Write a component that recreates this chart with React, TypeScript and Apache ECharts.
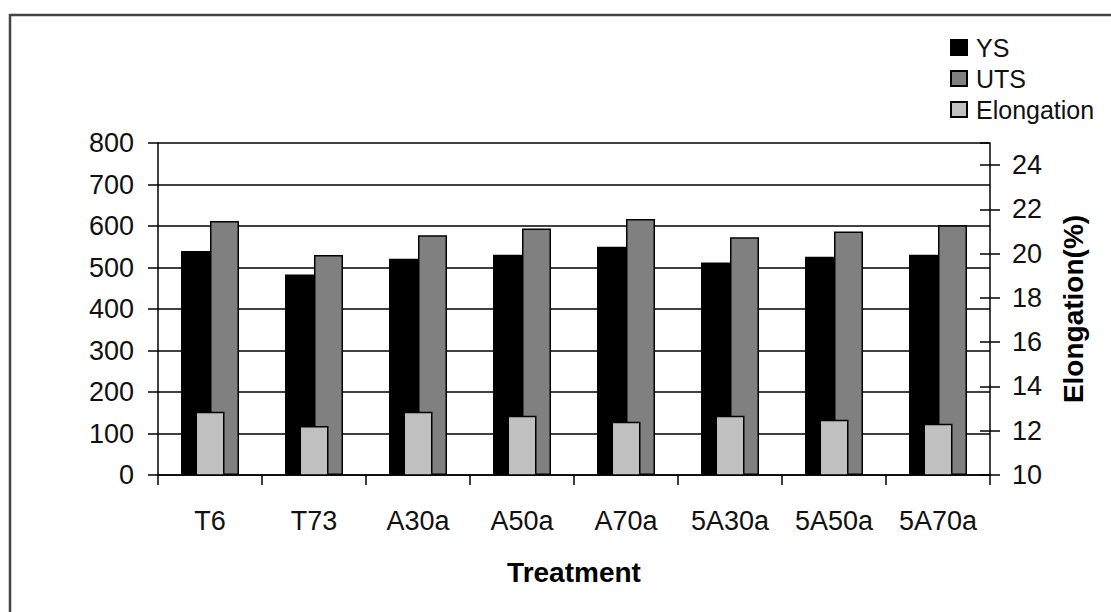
import React, { useEffect, useRef } from "react";
import * as echarts from "echarts";

const categories = ["T6", "T73", "A30a", "A50a", "A70a", "5A30a", "5A50a", "5A70a"];
const ysValues = [540, 483, 521, 531, 550, 512, 526, 531];
const utsValues = [612, 530, 578, 594, 617, 573, 587, 602];
const elongationValues = [12.86, 12.21, 12.86, 12.68, 12.41, 12.68, 12.5, 12.32];
const leftTicks = { min: 0, max: 800, interval: 100 };
const rightTicks = { min: 10, max: 25, interval: 2 };

const FONT = "Liberation Sans, Arial, sans-serif";

export default function App() {
  const ref = useRef<HTMLDivElement>(null);
  useEffect(() => {
    if (!ref.current) return;
    const chart = echarts.init(ref.current, null, { renderer: "svg" });
    const barBorder = { borderColor: "#000", borderWidth: 1.5 };
    chart.setOption({
      animation: false,
      backgroundColor: "#fff",
      textStyle: { fontFamily: FONT },
      graphic: [
        {
          type: "rect",
          shape: { x: 10, y: 15, width: 1200, height: 700 },
          style: { fill: "none", stroke: "#444", lineWidth: 2.5 },
          silent: true,
        },
      ],
      legend: {
        orient: "vertical",
        left: 945,
        top: 30,
        itemWidth: 16,
        itemHeight: 15,
        itemGap: 6,
        icon: "rect",
        textStyle: { fontSize: 25, color: "#111", fontFamily: FONT, padding: [0, 0, 0, 4] },
        data: ["YS", "UTS", "Elongation"],
      },
      grid: { left: 158, right: 121, top: 143, bottom: 137, containLabel: false },
      xAxis: [
        {
          type: "category",
          data: categories,
          name: "Treatment",
          nameLocation: "middle",
          nameGap: 83,
          nameTextStyle: { fontSize: 28, fontWeight: "bold", color: "#000", fontFamily: FONT },
          axisLine: { lineStyle: { color: "#000", width: 1.5 } },
          axisTick: { show: true, length: 10, alignWithLabel: false, lineStyle: { color: "#000", width: 1.5 } },
          axisLabel: { fontSize: 27, color: "#111", margin: 32, fontFamily: FONT },
        },
        {
          type: "category",
          data: categories,
          show: false,
          position: "bottom",
        },
      ],
      yAxis: [
        {
          type: "value",
          min: leftTicks.min,
          max: leftTicks.max,
          interval: leftTicks.interval,
          position: "left",
          axisLine: { show: true, lineStyle: { color: "#000", width: 1.5 } },
          axisTick: { show: true, length: 10, lineStyle: { color: "#000", width: 1.5 } },
          axisLabel: { fontSize: 27, color: "#111", margin: 24, fontFamily: FONT },
          splitLine: { show: true, lineStyle: { color: "#000", width: 1.5 } },
        },
        {
          type: "value",
          min: rightTicks.min,
          max: rightTicks.max,
          interval: rightTicks.interval,
          position: "right",
          name: "Elongation(%)",
          nameLocation: "middle",
          nameRotate: 90,
          nameGap: 69,
          nameTextStyle: { fontSize: 28, fontWeight: "bold", color: "#000", fontFamily: FONT },
          axisLine: { show: true, lineStyle: { color: "#000", width: 1.5 } },
          axisTick: { show: true, length: 10, lineStyle: { color: "#000", width: 1.5 } },
          axisLabel: { fontSize: 27, color: "#111", margin: 22, fontFamily: FONT, showMaxLabel: false },
          splitLine: { show: false },
        },
        {
          type: "value",
          min: rightTicks.min,
          max: rightTicks.max,
          interval: rightTicks.interval,
          position: "right",
          axisLine: { show: false },
          axisTick: { show: true, inside: true, length: 10, lineStyle: { color: "#000", width: 1.5 } },
          axisLabel: { show: false },
          splitLine: { show: false },
        },
      ],
      series: [
        {
          name: "YS",
          type: "bar",
          xAxisIndex: 0,
          yAxisIndex: 0,
          data: ysValues,
          barWidth: 29,
          barGap: "0%",
          itemStyle: { color: "#000", ...barBorder },
          z: 2,
        },
        {
          name: "UTS",
          type: "bar",
          xAxisIndex: 0,
          yAxisIndex: 0,
          data: utsValues,
          barWidth: 29,
          barGap: "0%",
          itemStyle: { color: "#808080", ...barBorder },
          z: 2,
        },
        {
          name: "Elongation",
          type: "bar",
          xAxisIndex: 1,
          yAxisIndex: 1,
          data: elongationValues,
          barWidth: 29,
          itemStyle: { color: "#c0c0c0", ...barBorder },
          z: 3,
        },
      ],
    });
    return () => chart.dispose();
  }, []);
  return (
    <div
      ref={ref}
      style={{ position: "fixed", left: 0, top: 0, width: 1111, height: 612 }}
    />
  );
}
